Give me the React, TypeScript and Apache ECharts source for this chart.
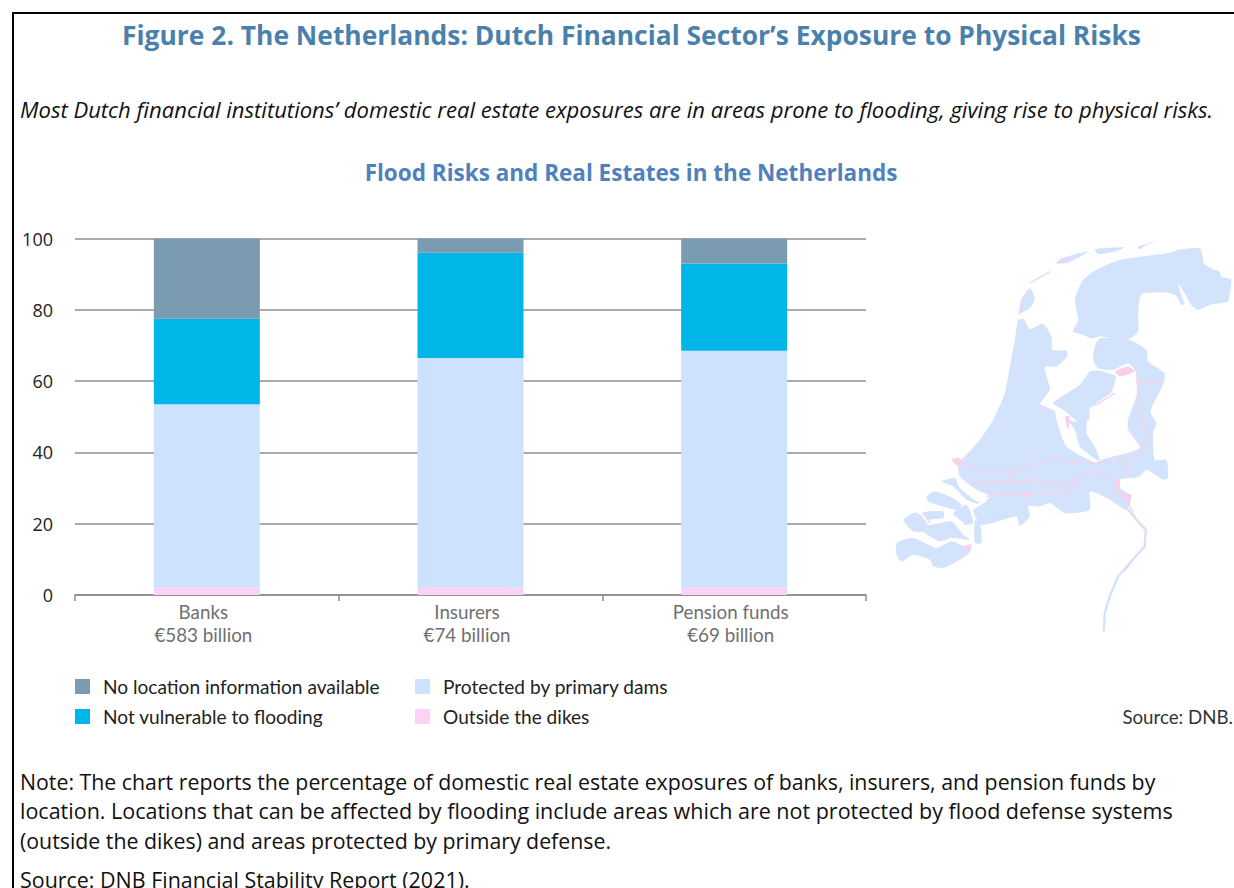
import React, { useEffect, useRef } from "react";
import * as echarts from "echarts";

const categories = ["Banks\n€583 billion", "Insurers\n€74 billion", "Pension funds\n€69 billion"];
const outsideDikes = [2, 2, 2];
const protectedDams = [51.5, 64.5, 66.5];
const notVulnerable = [24, 29.5, 24.5];
const noLocation = [22.5, 4, 7];
const yTicks = [0, 20, 40, 60, 80, 100];

const titleText = "Figure 2. The Netherlands: Dutch Financial Sector’s Exposure to Physical Risks";
const subtitleText = "Most Dutch financial institutions’ domestic real estate exposures are in areas prone to flooding, giving rise to physical risks.";
const chartTitleText = "Flood Risks and Real Estates in the Netherlands";
const noteLines = [
  "Note: The chart reports the percentage of domestic real estate exposures of banks, insurers, and pension funds by",
  "location. Locations that can be affected by flooding include areas which are not protected by flood defense systems",
  "(outside the dikes) and areas protected by primary defense.",
];
const noteSizes = [21.3, 21.5, 21.3];
const sourceLine = "Source: DNB Financial Stability Report (2021).";

const LAND = "#d2e3fb";
const PINK = "#fbcfe9";
const FONT = "'Open Sans', sans-serif";
const LEGEND_FONT = "Lato, sans-serif";

// Decorative map outline, in crop coordinates (3x)
const landShapes: number[][][] = [
  [[597,175],[610,150],[640,125],[680,105],[720,90],[770,82],[820,75],[870,68],[905,58],[960,55],[968,75],[972,100],[1000,118],[1020,125],[1025,140],[1055,150],[1050,190],[1045,215],[990,225],[955,240],[935,225],[915,190],[895,160],[905,195],[915,222],[905,225],[890,198],[860,188],[790,190],[780,205],[775,250],[775,305],[745,328],[660,320],[635,325],[610,315],[580,305],[595,270],[585,210]],
  [[415,270],[405,330],[392,400],[375,490],[340,570],[300,630],[250,685],[235,700],[240,740],[290,780],[330,800],[280,840],[305,885],[410,860],[420,888],[450,860],[445,830],[480,830],[510,820],[555,850],[630,840],[630,785],[690,810],[740,840],[755,800],[715,770],[720,750],[780,740],[800,720],[850,750],[865,745],[860,690],[825,690],[820,610],[830,580],[812,545],[850,465],[855,430],[805,395],[800,360],[745,328],[660,325],[645,350],[640,390],[655,415],[700,420],[745,400],[770,430],[772,490],[745,570],[745,600],[780,655],[665,690],[650,700],[560,650],[530,570],[525,545],[480,525],[510,480],[495,412],[530,410],[562,380],[560,362],[518,360],[515,320],[490,282],[450,298],[432,268]],
  [[520,520],[600,465],[630,425],[655,422],[710,440],[705,480],[650,525],[630,535],[628,570],[595,575],[550,540]],
  [[555,560],[580,575],[620,575],[620,610],[650,660],[660,695],[600,650],[585,600]],
  [[418,250],[425,210],[450,175],[465,205],[450,235]],
  [[530,100],[545,85],[625,64],[610,75],[565,98]],
  [[645,60],[660,55],[735,52],[700,66],[655,72]],
  [[775,50],[840,30],[800,45],[778,58]],
  [[185,755],[225,745],[240,775],[290,815],[315,815],[305,825],[260,810],[220,770]],
  [[140,800],[165,785],[210,800],[245,825],[230,840],[190,830],[145,815]],
  [[70,870],[105,848],[125,860],[130,905],[100,905]],
  [[125,850],[190,845],[190,865],[150,870],[150,885],[215,875],[250,915],[270,930],[215,925],[180,935],[130,905]],
  [[50,940],[100,925],[170,955],[215,935],[270,965],[240,990],[190,1015],[160,1010],[150,990],[100,975],[65,995],[50,975]],
  [[220,850],[260,825],[280,880],[245,885]],
  [[285,870],[300,880],[305,940],[285,940]],
];
const pinkShapes: number[][][] = [
  [[215,690],[235,683],[250,700],[235,710]],
  [[705,425],[745,410],[765,425],[720,440]],
  [[720,790],[755,795],[740,815]],
  [[250,950],[275,945],[270,965]],
  [[555,560],[570,560],[565,600]],
  [[530,100],[570,78],[550,95]],
  [[430,790],[450,785],[450,800],[432,800]],
  [[710,750],[720,750],[720,785],[710,775]],
];
const whiteLines: number[][][] = [
  [[235,745],[280,780],[325,805]],
  [[280,835],[320,810]],
  [[200,845],[225,865],[250,885]],
  [[125,850],[150,885]],
  [[715,440],[700,490],[650,525]],
];
const blueLines: number[][][] = [
  [[720,810],[770,870],[798,900],[795,950],[750,1000],[715,1040],[690,1100],[675,1150],[672,1205]],
];
const pinkLines: number[][][] = [
  [[250,700],[300,725],[380,725],[440,715],[520,680],[560,695],[640,700],[730,690],[780,670]],
  [[280,760],[400,755],[480,750],[570,770],[600,730],[650,725],[710,750],[715,790]],
  [[320,800],[440,790],[520,790],[570,790],[600,750]],
  [[770,430],[775,490],[790,580],[805,630],[780,670]],
  [[770,460],[850,460]],
  [[735,700],[750,730]],
  [[390,725],[395,770]],
  [[740,810],[770,870],[798,900],[795,950]],
  [[770,975],[735,1025]],
  [[450,160],[510,125]],
  [[420,255],[425,210],[445,180]],
  [[130,850],[150,880]],
  [[480,525],[525,545]],
  [[650,525],[705,490]],
];

function mapChildren() {
  const kids: any[] = [];
  landShapes.forEach((points) => kids.push({ type: "polygon", shape: { points, smooth: 0.2 }, style: { fill: LAND } }));
  whiteLines.forEach((points) => kids.push({ type: "polyline", shape: { points }, style: { stroke: "#ffffff", lineWidth: 9, fill: "none" } }));
  blueLines.forEach((points) => kids.push({ type: "polyline", shape: { points }, style: { stroke: LAND, lineWidth: 7, fill: "none" } }));
  pinkShapes.forEach((points) => kids.push({ type: "polygon", shape: { points, smooth: 0.2 }, style: { fill: PINK } }));
  pinkLines.forEach((points) => kids.push({ type: "polyline", shape: { points }, style: { stroke: PINK, lineWidth: 4, fill: "none" } }));
  return kids;
}

function textEl(text: string, x: number, y: number, extra: any = {}) {
  return { type: "text", x, y, style: { text, fill: "#111111", font: `21.45px ${FONT}`, textVerticalAlign: "middle", ...extra } };
}

export default function App() {
  const ref = useRef<HTMLDivElement>(null);
  useEffect(() => {
    const chart = echarts.init(ref.current!, undefined, { renderer: "svg" });
    const bar = (name: string, data: number[], color: string) => ({
      name, type: "bar", stack: "total", data, barWidth: 106,
      itemStyle: { color }, emphasis: { disabled: true },
    });
    const legendText = { color: "#222222", fontFamily: LEGEND_FONT, fontSize: 19.1, padding: [0, 0, 0, 8], height: 19, lineHeight: 19 };
    chart.setOption({
      animation: false,
      backgroundColor: "#ffffff",
      grid: { left: 75, top: 238.5, width: 791, height: 356.5 },
      xAxis: {
        type: "category", data: categories,
        axisLine: { lineStyle: { color: "#8b8b8b", width: 1.5 } },
        axisTick: { show: true, length: 6, lineStyle: { color: "#8b8b8b", width: 1.5 } },
        axisLabel: { color: "#707070", fontFamily: LEGEND_FONT, fontSize: 18.8, lineHeight: 23, margin: 5, padding: [0, 7, 0, 0] },
      },
      yAxis: {
        type: "value", min: yTicks[0], max: yTicks[yTicks.length - 1], interval: 20,
        axisLine: { show: false }, axisTick: { show: false },
        axisLabel: { color: "#222222", fontFamily: FONT, fontSize: 18, margin: 22, padding: [0, 0, 2, 0] },
        splitLine: { lineStyle: { color: "#8f8f8f", width: 1.5 } },
      },
      legend: [
        {
          left: 75, top: 677, orient: "vertical", itemWidth: 15, itemHeight: 15, itemGap: 11, icon: "rect",
          data: ["No location information available", "Not vulnerable to flooding"],
          textStyle: legendText, padding: 0,
        },
        {
          left: 415, top: 677, orient: "vertical", itemWidth: 15, itemHeight: 15, itemGap: 11, icon: "rect",
          data: ["Protected by primary dams", "Outside the dikes"],
          textStyle: legendText, padding: 0,
        },
      ],
      series: [
        bar("Outside the dikes", outsideDikes, "#fcd3f5"),
        bar("Protected by primary dams", protectedDams, "#cde2fd"),
        bar("Not vulnerable to flooding", notVulnerable, "#00b5e8"),
        bar("No location information available", noLocation, "#7b9bb1"),
      ],
      graphic: [
        { type: "rect", shape: { x: 12, y: 12, width: 1222, height: 2 }, style: { fill: "#000000" } },
        { type: "rect", shape: { x: 12, y: 12, width: 2, height: 876 }, style: { fill: "#000000" } },
        textEl(titleText, 631.5, 34.5, { font: `bold 26.4px ${FONT}`, fill: "#4a81ac", textAlign: "center" }),
        textEl(subtitleText, 20, 109, { font: `italic 22.07px ${FONT}`, fill: "#111111" }),
        textEl(chartTitleText, 631, 172.5, { font: `bold 22.5px ${FONT}`, fill: "#4f81bd", textAlign: "center" }),
        { type: "group", x: 880, y: 230, scaleX: 1 / 3, scaleY: 1 / 3, children: mapChildren() },
        textEl("Source: DNB.", 1233, 717, { font: `18.7px ${LEGEND_FONT}`, fill: "#333333", textAlign: "right" }),
        ...noteLines.map((line, i) => textEl(line, 20, 781 + i * 29.7, { font: `${noteSizes[i]}px ${FONT}` })),
        textEl(sourceLine, 20, 879.5),
      ],
    });
    return () => chart.dispose();
  }, []);
  return <div ref={ref} style={{ position: "fixed", left: 0, top: 0, width: 1234, height: 888 }} />;
}
